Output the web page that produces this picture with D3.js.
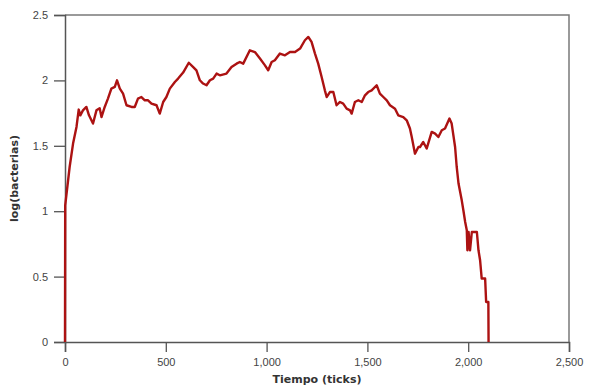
<!DOCTYPE html>
<html>
<head>
<meta charset="utf-8">
<script src="https://cdn.jsdelivr.net/npm/d3@7"></script>
<style>
  body { margin: 0; background: #fff; }
  svg { display: block; font-family: "DejaVu Sans", Verdana, sans-serif; }
</style>
</head>
<body>
<div id="chart"></div>
<script>
// time (ticks) and log(bacterias)
var tiempo = [0, 1, 23, 40, 57, 68, 76, 89, 106, 119, 139, 156, 172, 181, 197, 213, 230, 247, 258, 272,
  288, 305, 330, 346, 362, 379, 396, 412, 429, 454, 470, 487, 503, 520, 545, 561, 586, 614, 636, 652,
  669, 685, 702, 719, 735, 752, 768, 801, 826, 851, 867, 884, 917, 942, 967, 992, 1008, 1025, 1041, 1066,
  1091, 1116, 1141, 1166, 1190, 1207, 1223, 1240, 1256, 1273, 1289, 1298, 1314, 1331, 1347, 1364, 1380, 1397, 1414, 1422,
  1438, 1455, 1472, 1488, 1504, 1521, 1546, 1562, 1579, 1596, 1612, 1637, 1653, 1678, 1695, 1711, 1720, 1736, 1753, 1761,
  1777, 1794, 1819, 1836, 1852, 1869, 1885, 1907, 1918, 1935, 1943, 1952, 1968, 1976, 1985, 1993, 1996, 2002, 2009, 2018,
  2043, 2051, 2059, 2067, 2084, 2089, 2100, 2101];
var logBacterias = [0, 1.045, 1.338, 1.517, 1.644, 1.777, 1.733, 1.771, 1.797, 1.733, 1.670, 1.771, 1.787, 1.720, 1.797, 1.861, 1.937, 1.950, 2.001, 1.937,
  1.899, 1.810, 1.797, 1.797, 1.861, 1.873, 1.848, 1.848, 1.823, 1.810, 1.746, 1.835, 1.873, 1.937, 1.988, 2.014, 2.060, 2.135, 2.102, 2.077,
  2.001, 1.976, 1.963, 2.001, 2.014, 2.052, 2.039, 2.052, 2.102, 2.128, 2.141, 2.128, 2.230, 2.217, 2.167, 2.115, 2.077, 2.141, 2.154, 2.205,
  2.192, 2.217, 2.217, 2.243, 2.307, 2.332, 2.294, 2.205, 2.128, 2.026, 1.924, 1.873, 1.911, 1.911, 1.810, 1.835, 1.823, 1.784, 1.771, 1.746,
  1.835, 1.848, 1.835, 1.886, 1.911, 1.924, 1.963, 1.899, 1.873, 1.848, 1.810, 1.784, 1.733, 1.720, 1.695, 1.632, 1.567, 1.440, 1.491, 1.491,
  1.529, 1.479, 1.606, 1.593, 1.567, 1.619, 1.632, 1.708, 1.670, 1.491, 1.338, 1.211, 1.083, 1.007, 0.917, 0.854, 0.701, 0.841, 0.701, 0.841,
  0.841, 0.701, 0.625, 0.485, 0.485, 0.306, 0.306, 0];

var xTicks = [0, 500, 1000, 1500, 2000, 2500];
var yTicks = [0, 0.5, 1, 1.5, 2, 2.5];

var W = 590, H = 386;
var margin = {top: 15, right: 21, bottom: 44, left: 65};

var svg = d3.select("#chart").append("svg")
  .attr("width", W)
  .attr("height", H);

var x = d3.scaleLinear().domain([0, 2500]).range([margin.left, W - margin.right]);
var y = d3.scaleLinear().domain([0, 2.5]).range([H - margin.bottom, margin.top]);

// frame on top and right
svg.append("path")
  .attr("d", "M" + x(0) + "," + y(2.5) + "H" + x(2500) + "V" + y(0))
  .attr("fill", "none")
  .attr("stroke", "#7a7a7a")
  .attr("stroke-width", 1.5);

// minor + major ticks
var gx = svg.append("g").attr("transform", "translate(0," + y(0) + ")");
gx.call(d3.axisBottom(x).tickValues(d3.range(0, 2501, 100)).tickSize(5).tickFormat(""));
gx.call(d3.axisBottom(x).tickValues(xTicks).tickSize(10).tickPadding(6).tickFormat(d3.format(",")));
gx.selectAll("path.domain").attr("stroke", "#555").attr("stroke-width", 1.5);
gx.selectAll("line").attr("stroke", "#555").attr("stroke-width", 1.3);
gx.selectAll("text").attr("fill", "#444").style("font-size", "11px");

var gy = svg.append("g").attr("transform", "translate(" + x(0) + ",0)");
gy.call(d3.axisLeft(y).tickValues(d3.range(0, 2.501, 0.1)).tickSize(6).tickFormat(""));
gy.call(d3.axisLeft(y).tickValues(yTicks).tickSize(11).tickPadding(6).tickFormat(d3.format("~g")));
gy.selectAll("path.domain").attr("stroke", "#555").attr("stroke-width", 1.5);
gy.selectAll("line").attr("stroke", "#555").attr("stroke-width", 1.3);
gy.selectAll("text").attr("fill", "#444").style("font-size", "11px");

// line
var line = d3.line()
  .x(function(d, i) { return x(tiempo[i]); })
  .y(function(d) { return y(d); });

svg.append("path")
  .datum(logBacterias)
  .attr("fill", "none")
  .attr("stroke", "#ac1212")
  .attr("stroke-width", 2.4)
  .attr("stroke-linejoin", "round")
  .attr("d", line);

// axis titles
svg.append("text")
  .attr("x", (x(0) + x(2500)) / 2)
  .attr("y", 383)
  .attr("text-anchor", "middle")
  .attr("fill", "#333")
  .style("font-size", "11px")
  .style("font-weight", "bold")
  .text("Tiempo (ticks)");

svg.append("text")
  .attr("transform", "translate(18," + ((y(0) + y(2.5)) / 2) + ") rotate(-90)")
  .attr("text-anchor", "middle")
  .attr("fill", "#333")
  .style("font-size", "11px")
  .style("font-weight", "bold")
  .text("log(bacterias)");
</script>
</body>
</html>
